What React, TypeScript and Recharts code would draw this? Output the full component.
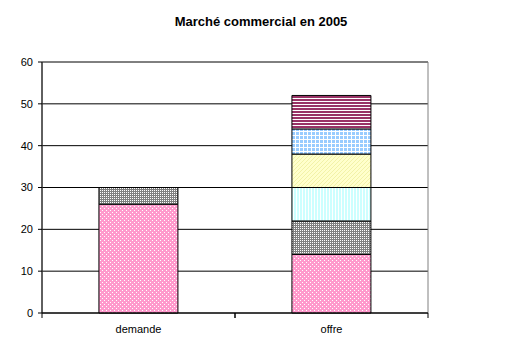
import { BarChart, Bar, XAxis, YAxis, CartesianGrid, ReferenceArea } from 'recharts'

const categories = ['demande', 'offre']
const pinkVals = [26, 14]
const grayVals = [4, 8]
const cyanVals = [null, 8]
const yellowVals = [null, 8]
const blueVals = [null, 6]
const stripeVals = [null, 8]
const yTicks = [0, 10, 20, 30, 40, 50, 60]

const data = categories.map((name, i) => ({
  name,
  pink: pinkVals[i],
  gray: grayVals[i],
  cyan: cyanVals[i],
  yellow: yellowVals[i],
  blue: blueVals[i],
  stripe: stripeVals[i],
}))

const SERIES = [
  { key: 'pink', fill: 'url(#pPink)' },
  { key: 'gray', fill: 'url(#pGray)' },
  { key: 'cyan', fill: 'url(#pCyan)' },
  { key: 'yellow', fill: 'url(#pYellow)' },
  { key: 'blue', fill: 'url(#pBlue)' },
  { key: 'stripe', fill: 'url(#pStripe)' },
]

// category label plus Excel-style tick marks at the band edges
function XTick(props: any) {
  const { x, y, payload } = props
  const off = payload?.offset ?? 0
  return (
    <g>
      <line x1={x - off} x2={x - off} y1={y} y2={y + 5} stroke="#000" />
      <line x1={x + off} x2={x + off} y1={y} y2={y + 5} stroke="#000" />
      <text x={x} y={y + 20} textAnchor="middle" fontSize={11} fill="#000">{payload.value}</text>
    </g>
  )
}

export default function App() {
  return (
    <div style={{ position: 'fixed', left: 0, top: 0, width: 520, height: 355, background: '#fff', fontFamily: '"Liberation Sans", Arial, sans-serif' }}>
      <div style={{ position: 'absolute', left: 0, top: 14, width: 522, textAlign: 'center', fontSize: 13, fontWeight: 'bold', color: '#000' }}>
        Marché commercial en 2005
      </div>
      <BarChart
        width={520}
        height={355}
        data={data}
        margin={{ top: 62, right: 92, left: 0, bottom: 12 }}
        barCategoryGap="29.5%"
      >
        <defs>
          <pattern id="pPink" width="4" height="4" patternUnits="userSpaceOnUse">
            <rect width="4" height="4" fill="#FF99CC" />
            <rect x="0" y="0" width="1" height="1" fill="#fff" />
            <rect x="2" y="2" width="1" height="1" fill="#fff" />
          </pattern>
          <pattern id="pGray" width="2" height="2" patternUnits="userSpaceOnUse">
            <rect width="2" height="2" fill="#808080" />
            <rect x="0" y="0" width="1" height="1" fill="#fff" />
          </pattern>
          <pattern id="pCyan" width="3" height="3" patternUnits="userSpaceOnUse">
            <rect width="3" height="3" fill="#CCFFFF" />
            <rect x="2" y="0" width="1" height="3" fill="#fff" />
          </pattern>
          <pattern id="pYellow" width="4" height="4" patternUnits="userSpaceOnUse">
            <rect width="4" height="4" fill="#FFFFCC" />
            <rect x="0" y="3" width="1" height="1" fill="#F2F2A8" />
            <rect x="1" y="2" width="1" height="1" fill="#F2F2A8" />
            <rect x="2" y="1" width="1" height="1" fill="#F2F2A8" />
            <rect x="3" y="0" width="1" height="1" fill="#F2F2A8" />
          </pattern>
          <pattern id="pBlue" width="4" height="4" patternUnits="userSpaceOnUse">
            <rect width="4" height="4" fill="#fff" />
            <rect x="0" y="0" width="3" height="3" fill="#99CCFF" />
          </pattern>
          <pattern id="pStripe" width="3" height="3" patternUnits="userSpaceOnUse">
            <rect width="3" height="3" fill="#fff" />
            <rect x="0" y="0" width="3" height="2" fill="#993366" />
          </pattern>
        </defs>
        <CartesianGrid vertical={false} stroke="#000" strokeOpacity={1} />
        <ReferenceArea y1={0} y2={60} fill="none" stroke="#808080" ifOverflow="visible" />
        <XAxis
          dataKey="name"
          axisLine={{ stroke: '#000' }}
          tickLine={false}
          tickSize={0}
          tickMargin={0}
          height={30}
          tick={<XTick />}
          interval={0}
        />
        <YAxis
          domain={[0, 60]}
          ticks={yTicks}
          width={42}
          axisLine={{ stroke: '#000' }}
          tickLine={{ stroke: '#000' }}
          tickSize={4}
          tickMargin={5}
          tick={{ fontSize: 11, fill: '#000' }}
          interval={0}
        />
        {SERIES.map(s => (
          <Bar
            key={s.key}
            dataKey={s.key}
            stackId="a"
            fill={s.fill}
            stroke="#000"
            strokeWidth={1}
            isAnimationActive={false}
          />
        ))}
      </BarChart>
    </div>
  )
}
